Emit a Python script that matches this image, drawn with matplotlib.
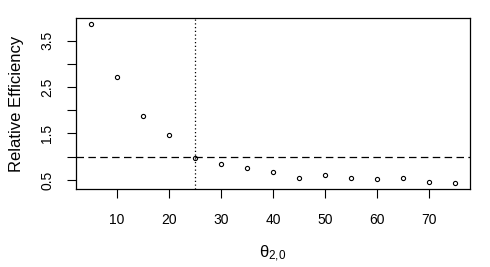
"""
Relative efficiency vs theta_{2,0}, base-R look
"""

import matplotlib
matplotlib.use("Agg")
import matplotlib.pyplot as plt

theta = [5, 10, 15, 20, 25, 30, 35, 40, 45, 50, 55, 60, 65, 70, 75]
rel_eff = [3.85, 2.72, 1.88, 1.46, 0.97, 0.85, 0.75, 0.68, 0.55, 0.60,
           0.55, 0.51, 0.53, 0.46, 0.44]
x_ticks = [10, 20, 30, 40, 50, 60, 70]
y_ticks = [0.5, 1.0, 1.5, 2.0, 2.5, 3.0, 3.5]
y_labels = ["0.5", "", "1.5", "", "2.5", "", "3.5"]
cutoff = 25
ref_level = 1.0

plt.rcParams["font.family"] = ["Liberation Sans", "DejaVu Sans"]

fig = plt.figure(figsize=(4.9, 2.67), dpi=100)
ax = fig.add_axes([76 / 490, 78 / 267, 394 / 490, 171 / 267])

ax.plot(theta, rel_eff, linestyle="none", marker="o", markersize=3,
        markerfacecolor="white", markeredgecolor="black", markeredgewidth=0.8)
ax.axhline(ref_level, color="black", lw=0.9, dashes=(6, 3.5))
ax.axvline(cutoff, color="black", lw=0.9, dashes=(1, 2))

# R-style 4% padding around the data range
xr = max(theta) - min(theta)
yr = max(rel_eff) - min(rel_eff)
ax.set_xlim(min(theta) - 0.04 * xr, max(theta) + 0.04 * xr)
ax.set_ylim(min(rel_eff) - 0.04 * yr, max(rel_eff) + 0.04 * yr)

ax.set_xticks(x_ticks)
ax.set_yticks(y_ticks)
ax.set_yticklabels(y_labels, rotation=90, va="center")
ax.tick_params(length=6.5, width=0.8, labelsize=10)
ax.tick_params(axis="x", pad=11)
ax.tick_params(axis="y", pad=9)
for s in ax.spines.values():
    s.set_linewidth(0.9)

ax.set_ylabel("Relative Efficiency", fontsize=12, labelpad=12)
ax.set_xlabel(r"$\mathregular{\theta_{2{,}0}}$", fontsize=12, labelpad=12)

fig.savefig("out.png", dpi=100)
